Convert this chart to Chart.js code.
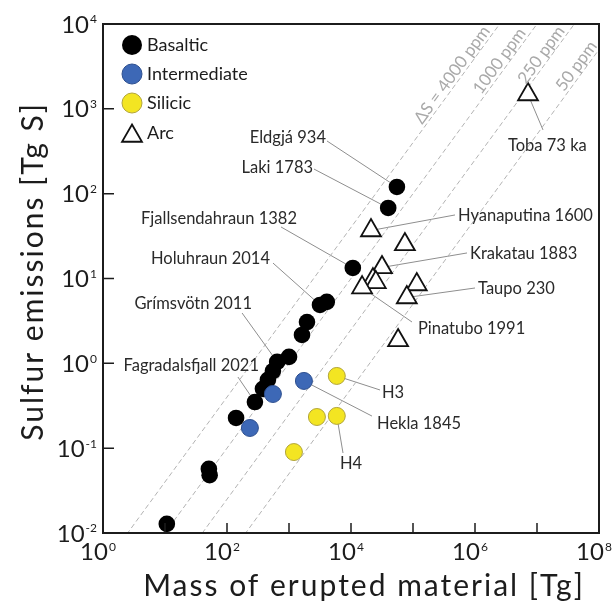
<!DOCTYPE html>
<html>
<head>
<meta charset="utf-8">
<title>Sulfur emissions vs erupted mass</title>
<script src="https://cdn.jsdelivr.net/npm/chart.js@4.4.0/dist/chart.umd.min.js"></script>
<style>
  html, body { margin: 0; padding: 0; background: #fff; }
  #wrap { width: 613px; height: 601px; position: relative; }
</style>
</head>
<body>
<div id="wrap"><canvas id="sulfurChart"></canvas></div>
<script>
// Erupted mass [Tg] and sulfur emissions [Tg S] per eruption type
const basalticMass   = [10.7, 51, 52.5, 140, 282, 380, 457, 550, 645, 1000, 1620, 1950, 3160, 4070, 10700, 39800, 55000];
const basalticSulfur = [0.0128, 0.057, 0.048, 0.227, 0.35, 0.50, 0.64, 0.81, 1.04, 1.19, 2.16, 3.07, 4.88, 5.3, 13.3, 67.8, 120];

const intermediateMass   = [234, 550, 1740];
const intermediateSulfur = [0.173, 0.435, 0.62];

const silicicMass   = [1200, 2820, 5900, 5900];
const silicicSulfur = [0.090, 0.233, 0.24, 0.71];

const arcMass   = [21000, 74000, 31600, 22600, 25100, 15100, 115000, 79400, 57500, 7160000];
const arcSulfur = [36.8, 25.2, 13.5, 9.7, 9.0, 7.8, 8.5, 5.97, 1.86, 1476];

// Sulfur yield reference lines (ppm of erupted mass)
const ppmLevels = [4000, 1000, 250, 50];
const ppmLabels = ['ΔS = 4000 ppm', '1000 ppm', '250 ppm', '50 ppm'];
const ppmLabelSulfur = [2200, 3200, 3770, 2790];

// Axis decades
const xDecades = [0, 1, 2, 3, 4, 5, 6, 7, 8];
const xLabelled = [0, 2, 4, 6, 8];
const yDecades = [-2, -1, 0, 1, 2, 3, 4];

const xTitle = 'Mass of erupted material [Tg]';
const yTitle = 'Sulfur emissions [Tg S]';

// Named eruptions: text placement and leader start in data units
const callouts = [
  { text: 'Eldgjá 934',            series: 'basaltic',     index: 16, align: 'right', tm: 3950,    ts: 466,   lm: 4100,    ls: 418 },
  { text: 'Laki 1783',             series: 'basaltic',     index: 15, align: 'right', tm: 2440,    ts: 206,   lm: 2530,    ls: 195 },
  { text: 'Fjallsendahraun 1382',  series: 'basaltic',     index: 14, align: 'right', tm: 1346,    ts: 51.6,  lm: 743,     ls: 40.5 },
  { text: 'Holuhraun 2014',        series: 'basaltic',     index: 12, align: 'right', tm: 494,     ts: 17.5,  lm: 552,     ls: 15.2 },
  { text: 'Grímsvötn 2011',        series: 'basaltic',     index: 8,  align: 'right', tm: 253,     ts: 5.14,  lm: 175,     ls: 3.92 },
  { text: 'Fagradalsfjall 2021',   series: 'basaltic',     index: 4,  align: 'right', tm: 328,     ts: 0.956, lm: 150,     ls: 0.69 },
  { text: 'Hyanaputina 1600',      series: 'arc',          index: 0,  align: 'left',  tm: 532000,  ts: 56.1,  lm: 476000,  ls: 56.1 },
  { text: 'Krakatau 1883',         series: 'arc',          index: 2,  align: 'left',  tm: 830000,  ts: 20.0,  lm: 743000,  ls: 20.0 },
  { text: 'Taupo 230',             series: 'arc',          index: 7,  align: 'left',  tm: 1120000, ts: 7.73,  lm: 1000000, ls: 7.73 },
  { text: 'Pinatubo 1991',         series: 'arc',          index: 5,  align: 'left',  tm: 120000,  ts: 2.61,  lm: 96300,   ls: 3.07 },
  { text: 'Toba 73 ka',            series: 'arc',          index: 9,  align: 'left',  tm: 3410000, ts: 375,   lm: 12500000, ls: 564 },
  { text: 'H3',                    series: 'silicic',      index: 3,  align: 'left',  tm: 31600,   ts: 0.459, lm: 29400,   ls: 0.485 },
  { text: 'Hekla 1845',            series: 'intermediate', index: 2,  align: 'left',  tm: 26300,   ts: 0.198, lm: 21800,   ls: 0.239 },
  { text: 'H4',                    series: 'silicic',      index: 2,  align: 'center', tm: 10000,  ts: 0.0668, lm: 7430,   ls: 0.0877 }
];

const FONT = 'Lato';
const INK = '#1c1c1c';

const seriesData = {
  basaltic: basalticMass.map((m, i) => ({ x: m, y: basalticSulfur[i] })),
  intermediate: intermediateMass.map((m, i) => ({ x: m, y: intermediateSulfur[i] })),
  silicic: silicicMass.map((m, i) => ({ x: m, y: silicicSulfur[i] })),
  arc: arcMass.map((m, i) => ({ x: m, y: arcSulfur[i] }))
};

const legendItems = [
  { label: 'Basaltic',     style: 'circle',   fill: '#000000', stroke: '#000000', radius: 10,   width: 0 },
  { label: 'Intermediate', style: 'circle',   fill: '#3d68b6', stroke: '#2d4f8f', radius: 10,   width: 1 },
  { label: 'Silicic',      style: 'circle',   fill: '#f3e522', stroke: '#b2a53a', radius: 10,   width: 1 },
  { label: 'Arc',          style: 'triangle', fill: '#ffffff', stroke: '#111111', radius: 11.5, width: 1.8 }
];

function toPx(chart, m, s) {
  return { x: chart.scales.x.getPixelForValue(m), y: chart.scales.y.getPixelForValue(s) };
}

// Draw "10" with a raised exponent; cy is the vertical centre of the digits
function drawPower(ctx, exp, x, cy, align) {
  const base = '10';
  const sup = String(exp);
  ctx.font = `24px ${FONT}`;
  const bw = ctx.measureText(base).width;
  ctx.font = `12px ${FONT}`;
  const sw = ctx.measureText(sup).width;
  const total = bw + 1 + sw;
  const left = align === 'right' ? x - total : x - total / 2;
  ctx.textAlign = 'left';
  ctx.textBaseline = 'alphabetic';
  ctx.font = `24px ${FONT}`;
  ctx.fillText(base, left, cy + 8.6);
  ctx.font = `12px ${FONT}`;
  ctx.fillText(sup, left + bw + 1, cy - 0.6);
}

function drawMarker(ctx, item, x, y) {
  ctx.fillStyle = item.fill;
  ctx.strokeStyle = item.stroke;
  ctx.lineWidth = item.width;
  ctx.beginPath();
  if (item.style === 'triangle') {
    const r = item.radius;
    ctx.moveTo(x, y - r);
    ctx.lineTo(x + r * Math.sqrt(3) / 2, y + r / 2);
    ctx.lineTo(x - r * Math.sqrt(3) / 2, y + r / 2);
    ctx.closePath();
  } else {
    ctx.arc(x, y, item.radius, 0, Math.PI * 2);
  }
  ctx.fill();
  if (item.width > 0) ctx.stroke();
}

const overlayPlugin = {
  id: 'overlay',
  beforeDatasetsDraw(chart) {
    const ctx = chart.ctx;
    ctx.save();
    ctx.strokeStyle = '#8e8e8e';
    ctx.lineWidth = 1;
    callouts.forEach(c => {
      const pt = seriesData[c.series][c.index];
      const from = toPx(chart, c.lm, c.ls);
      const to = toPx(chart, pt.x, pt.y);
      ctx.beginPath();
      ctx.moveTo(from.x, from.y);
      ctx.lineTo(to.x, to.y);
      ctx.stroke();
    });
    ctx.restore();
  },
  afterDraw(chart) {
    const ctx = chart.ctx;
    const area = chart.chartArea;
    const xs = chart.scales.x;
    const ys = chart.scales.y;
    ctx.save();

    // frame
    ctx.strokeStyle = INK;
    ctx.lineWidth = 2;
    ctx.strokeRect(area.left, area.top, area.right - area.left, area.bottom - area.top);

    // inward ticks
    ctx.lineWidth = 1.5;
    ctx.beginPath();
    xDecades.forEach(d => {
      const x = xs.getPixelForValue(Math.pow(10, d));
      ctx.moveTo(x, area.bottom);
      ctx.lineTo(x, area.bottom - 10);
    });
    yDecades.forEach(d => {
      const y = ys.getPixelForValue(Math.pow(10, d));
      ctx.moveTo(area.left, y);
      ctx.lineTo(area.left + 11, y);
    });
    ctx.stroke();

    // tick labels
    ctx.fillStyle = INK;
    xLabelled.forEach(d => {
      drawPower(ctx, d, xs.getPixelForValue(Math.pow(10, d)) - 5, area.bottom + 18.5, 'center');
    });
    yDecades.forEach(d => {
      drawPower(ctx, d, area.left - 6, ys.getPixelForValue(Math.pow(10, d)), 'right');
    });

    // axis titles, a little letter-spaced
    ctx.font = `30px ${FONT}`;
    ctx.letterSpacing = '2px';
    ctx.textAlign = 'center';
    ctx.textBaseline = 'alphabetic';
    ctx.fillText(xTitle, (area.left + area.right) / 2 + 13, chart.height - 5);
    ctx.save();
    ctx.translate(43, (area.top + area.bottom) / 2 - 7);
    ctx.rotate(-Math.PI / 2);
    ctx.fillText(yTitle, 0, 0);
    ctx.restore();
    ctx.letterSpacing = '0px';

    // eruption names
    ctx.fillStyle = '#2a2a2a';
    ctx.font = `16.5px ${FONT}`;
    ctx.textBaseline = 'alphabetic';
    callouts.forEach(c => {
      const p = toPx(chart, c.tm, c.ts);
      ctx.textAlign = c.align;
      ctx.fillText(c.text, p.x, p.y + 5.9);
    });

    // ppm labels along the reference lines
    const a = toPx(chart, 1, 1);
    const b = toPx(chart, 10, 10);
    const angle = Math.atan2(b.y - a.y, b.x - a.x);
    const nx = Math.sin(angle), ny = -Math.cos(angle);
    ctx.fillStyle = '#a9a9a9';
    ctx.font = `17px ${FONT}`;
    ctx.textAlign = 'center';
    ppmLevels.forEach((ppm, i) => {
      const s = ppmLabelSulfur[i];
      const foot = toPx(chart, s / (ppm * 1e-6), s);
      const cx = foot.x + nx * 9;
      const cy = foot.y + ny * 9;
      ctx.save();
      ctx.translate(cx, cy);
      ctx.rotate(angle);
      ctx.fillText(ppmLabels[i], 0, 6);
      ctx.restore();
    });

    // legend
    const rows = [20.5, 49.5, 78.5, 108.5];
    legendItems.forEach((item, i) => {
      const cy = area.top + rows[i];
      drawMarker(ctx, item, area.left + 29, item.style === 'triangle' ? cy + 3.5 : cy + 0.5);
      ctx.fillStyle = INK;
      ctx.font = `18px ${FONT}`;
      ctx.textAlign = 'left';
      ctx.textBaseline = 'alphabetic';
      ctx.fillText(item.label, area.left + 44, cy + 6.4);
    });

    ctx.restore();
  }
};

const refLines = ppmLevels.map(ppm => ({
  data: [{ x: 1, y: ppm * 1e-6 }, { x: 1e8, y: ppm * 1e-6 * 1e8 }],
  showLine: true,
  pointRadius: 0,
  borderColor: '#b3b3b3',
  borderWidth: 1,
  borderDash: [5, 3],
  order: 10
}));

new Chart(document.getElementById('sulfurChart'), {
  type: 'scatter',
  data: {
    datasets: [
      ...refLines,
      { label: 'Basaltic', data: seriesData.basaltic, pointRadius: 8.3, backgroundColor: '#000000', borderColor: '#000000', borderWidth: 0, order: 4 },
      { label: 'Intermediate', data: seriesData.intermediate, pointRadius: 8.5, backgroundColor: '#3d68b6', borderColor: '#2d4f8f', borderWidth: 1, order: 3 },
      { label: 'Silicic', data: seriesData.silicic, pointRadius: 8.5, backgroundColor: '#f3e522', borderColor: '#b2a53a', borderWidth: 1, order: 2 },
      { label: 'Arc', data: seriesData.arc, pointStyle: 'triangle', pointRadius: 11.5, backgroundColor: '#ffffff', borderColor: '#111111', borderWidth: 1.8, order: 1 }
    ]
  },
  options: {
    responsive: true,
    maintainAspectRatio: false,
    animation: false,
    layout: { padding: { top: 24, right: 14, bottom: 0, left: 0 } },
    plugins: {
      legend: { display: false },
      tooltip: { enabled: false }
    },
    scales: {
      x: {
        type: 'logarithmic',
        min: 1,
        max: 1e8,
        grid: { display: false },
        border: { display: false },
        ticks: { display: false },
        afterBuildTicks: s => { s.ticks = xDecades.map(d => ({ value: Math.pow(10, d) })); },
        afterFit: s => { s.height = 68; }
      },
      y: {
        type: 'logarithmic',
        min: 1e-2,
        max: 1e4,
        grid: { display: false },
        border: { display: false },
        ticks: { display: false },
        afterBuildTicks: s => { s.ticks = yDecades.map(d => ({ value: Math.pow(10, d) })); },
        afterFit: s => { s.width = 103; }
      }
    }
  },
  plugins: [overlayPlugin]
});
</script>
</body>
</html>
